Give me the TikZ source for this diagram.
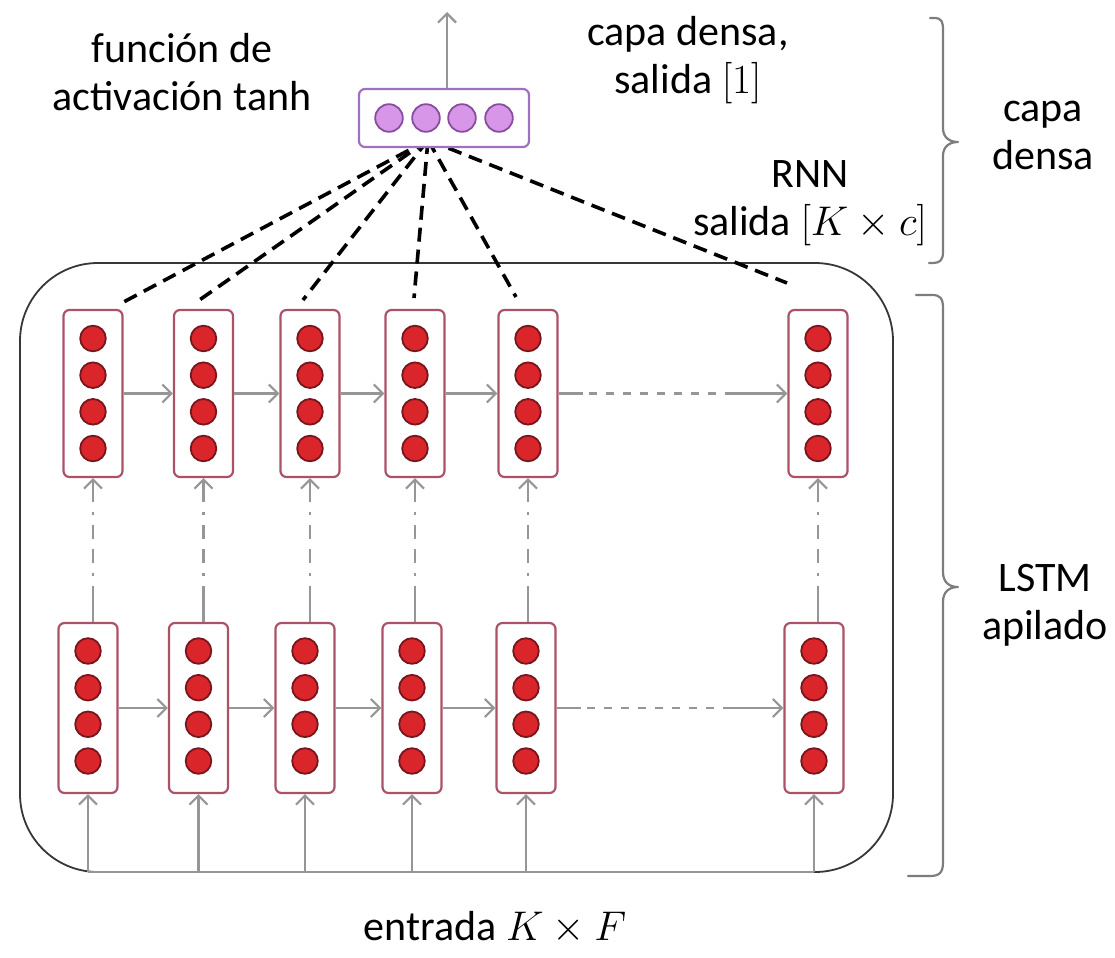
\documentclass[tikz,border=0pt]{standalone}
\usepackage{fontspec}
\setmainfont{Carlito}
\usetikzlibrary{arrows.meta,calc}
\definecolor{cellframe}{RGB}{172,82,104}
\definecolor{neuronfill}{RGB}{218,38,42}
\definecolor{neuronedge}{RGB}{120,22,30}
\definecolor{dframe}{RGB}{160,112,190}
\definecolor{dfill}{RGB}{216,150,232}
\definecolor{dedge}{RGB}{135,78,160}
\definecolor{garr}{RGB}{150,150,150}
\definecolor{framec}{RGB}{55,55,55}
\definecolor{bracec}{RGB}{125,125,125}
\begin{document}
\begin{tikzpicture}[x=0.5pt,y=-0.5pt,
  lbl/.style={font=\fontsize{21}{24}\selectfont, inner sep=0pt, align=center},
  cellbox/.style={draw=cellframe, line width=1.1pt, rounded corners=3pt, fill=white, minimum width=29.5pt, inner sep=0pt},
  neuron/.style={circle, draw=neuronedge, fill=neuronfill, line width=0.9pt, minimum size=12.8pt, inner sep=0pt},
  dbox/.style={draw=dframe, line width=1.1pt, rounded corners=3pt, fill=white, minimum width=85pt, minimum height=29pt, inner sep=0pt},
  dneuron/.style={circle, draw=dedge, fill=dfill, line width=0.9pt, minimum size=13.8pt, inner sep=0pt},
  garrow/.style={draw=garr, line width=1.2pt, -{Straight Barb[length=4.5pt,width=9pt,line width=1.1pt]}},
  gline/.style={draw=garr, line width=1.3pt},
  skipdash/.style={dash pattern=on 12pt off 3pt on 4pt off 4.5pt on 4pt off 4.5pt on 4pt off 4.5pt on 4pt off 4.5pt on 4pt off 4.5pt on 4pt off 4.5pt on 4pt off 4.5pt on 4pt off 4.5pt on 60pt},
  vdash/.style={dash pattern=on 18pt off 5pt on 1.5pt off 5pt on 7pt off 5pt on 7pt off 5pt on 1.5pt off 5pt on 40pt},
  dline/.style={draw=black, line width=1.8pt, dash pattern=on 7pt off 4pt},
  framebox/.style={draw=framec, line width=0.9pt, rounded corners=39pt, minimum width=436.5pt, minimum height=304.5pt, inner sep=0pt},
  bracepath/.style={draw=bracec, line width=1.1pt, line cap=round, line join=round}
]
\useasboundingbox (0,0) rectangle (1115,958);

% outer frame
\node[framebox] (frame) at (456.5,567.5) {};

% top LSTM row
\foreach \i/\x in {1/93,2/203.5,3/310,4/415,5/528,6/818}{
  \node[cellbox, minimum height=83.5pt] (t\i) at (\x,393.5) {};
  \foreach \k/\dy in {1/-55,2/-18.3,3/18.3,4/55}
    \node[neuron] (t\i-\k) at (\x,393.5+\dy) {};
}
% bottom LSTM row
\foreach \i/\x in {1/88,2/198.5,3/305,4/412,5/526,6/814}{
  \node[cellbox, minimum height=85pt] (b\i) at (\x,708) {};
  \foreach \k/\dy in {1/-55,2/-18.3,3/18.3,4/55}
    \node[neuron] (b\i-\k) at (\x,706+\dy) {};
  \coordinate (in\i) at (\x,872);
}

% horizontal recurrent arrows
\foreach \i/\j in {1/2,2/3,3/4,4/5}{
  \draw[garrow] (t\i.east) -- (t\j.west);
  \draw[garrow] (b\i.east) -- (b\j.west);
}
\draw[garrow, skipdash] (t5.east) -- (t6.west);
\draw[garrow, skipdash] (b5.east) -- (b6.west);

% vertical stacked links
\foreach \i in {1,...,6}
  \draw[garrow, vdash] (b\i.north -| t\i.south) -- (t\i.south);

% inputs
\draw[gline] (in1) -- (in6);
\foreach \i in {1,...,6}
  \draw[garrow] (in\i) -- (b\i.south);

% dashed connections to dense layer
\coordinate (hub) at (428,140);
\coordinate (e1) at (118,305);
\coordinate (e2) at (198,301);
\coordinate (e3) at (303,300);
\coordinate (e4) at (414,298);
\coordinate (e5) at (516,297);
\coordinate (e6) at (787,283);
\foreach \i in {1,...,6}
  \draw[dline] (hub) -- (e\i);

% dense layer
\node[dbox] (d) at (444,118) {};
\foreach \k/\x in {1/389,2/426,3/462,4/499}
  \node[dneuron] (d\k) at (\x,118) {};
\coordinate (out) at (447,12);
\draw[garrow] (d.north -| out) -- (out);

% braces
\draw[bracepath] (930,18) -- (934,18) .. controls (942,18) and (943,22) .. (943,30)
  -- (943,128) .. controls (943,138) and (950,142) .. (958,142)
  .. controls (950,142) and (943,146) .. (943,156)
  -- (943,252) .. controls (943,260) and (940,263) .. (933,263) -- (929,263);
\draw[bracepath] (916,295) -- (932,295) .. controls (940,295) and (943,298) .. (943,308)
  -- (943,572) .. controls (943,583) and (950,587) .. (958,587)
  .. controls (950,587) and (943,591) .. (943,602)
  -- (943,862) .. controls (943,872) and (940,876) .. (930,876) -- (908,876);

% labels
\node[lbl] (fa) at (182,72) {función de\\activación tanh};
\node[lbl] (cd) at (688,60) {capa densa,\\salida $[1]$};
\node[lbl] (rnn) at (810,203) {RNN\\salida $[K\times c]$};
\node[lbl] (cdr) at (1043,135) {capa\\densa};
\node[lbl] (lstm) at (1045,605) {LSTM\\apilado};
\node[lbl] (entrada) at (495,928) {entrada $K\times F$};
\end{tikzpicture}
\end{document}
